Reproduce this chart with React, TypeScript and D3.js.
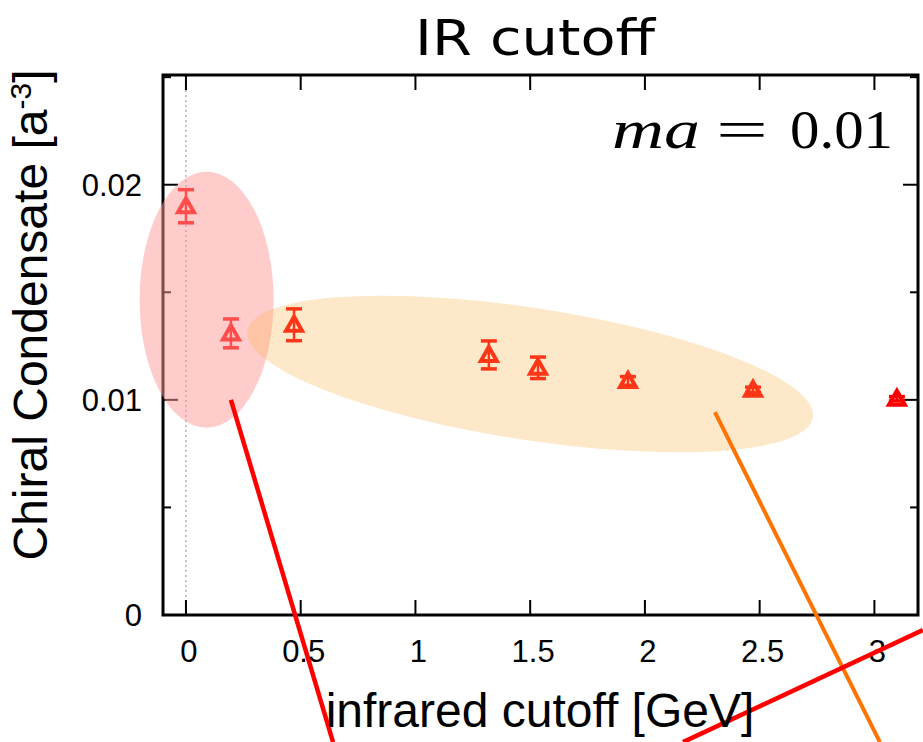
import * as d3 from "d3";

const WIDTH = 923;
const HEIGHT = 742;
const FRAME = { left: 163, right: 918, top: 75, bottom: 615 };

// measured points: infrared cutoff [GeV], condensate, error
const cutoffs = [0, 0.196, 0.471, 1.32, 1.534, 1.926, 2.471, 3.098];
const condensate = [0.019, 0.01309, 0.01349, 0.01209, 0.01149, 0.01088, 0.01047, 0.01005];
const errors = [0.00077, 0.00067, 0.00074, 0.00065, 0.0005, 0.0002, 0.00012, 0.0001];

const xTicks = [0, 0.5, 1, 1.5, 2, 2.5, 3];
const xTickLabels = ["0", "0.5", "1", "1.5", "2", "2.5", "3"];
const yTicks = [0, 0.01, 0.02];
const yTickLabels = ["0", "0.01", "0.02"];
const yMinorTicks = [0.005, 0.015, 0.025];

// highlight ellipses (centre in data units, radii in px, angle in degrees)
const ellipses = [
  { cx: 0.09, cy: 0.01465, rx: 67, ry: 128, angle: 0, fill: "#ff9999", opacity: 0.5 },
  { cx: 1.5, cy: 0.0112, rx: 286, ry: 66, angle: 8.7, fill: "#f9b24f", opacity: 0.3 },
];

// annotation strokes, endpoints in data units (run past the frame)
const strokes = [
  { x1: 0.196, y1: 0.01, x2: 0.641, y2: -0.00591, color: "#ff0000", width: 4.5 },
  { x1: 2.305, y1: 0.00943, x2: 3.024, y2: -0.00591, color: "#ff7300", width: 4 },
  { x1: 2.166, y1: -0.00591, x2: 3.211, y2: -0.0007, color: "#ff0000", width: 4.5 },
];

const FONT = "'Liberation Sans', Arial, Helvetica, sans-serif";

export default function App() {
  const x = d3.scaleLinear().domain([-0.1, 3.19]).range([FRAME.left, FRAME.right]);
  const y = d3.scaleLinear().domain([0, 0.0251]).range([FRAME.bottom, FRAME.top]);

  const triangle = (cx: number, cy: number) =>
    `M${cx},${cy - 8} L${cx + 8},${cy + 6} L${cx - 8},${cy + 6} Z`;

  return (
    <svg
      width={WIDTH}
      height={HEIGHT}
      style={{ position: "absolute", left: 0, top: 0, background: "#fff" }}
    >
      {/* zero line */}
      <line
        x1={x(0)}
        x2={x(0)}
        y1={FRAME.top}
        y2={FRAME.bottom}
        stroke="#888"
        strokeWidth={1}
        strokeDasharray="2,3"
      />

      {/* ticks on all four sides */}
      {xTicks.map((t, i) => (
        <g key={"xt" + i} stroke="#000" strokeWidth={2}>
          <line x1={x(t)} x2={x(t)} y1={FRAME.bottom} y2={FRAME.bottom - 15} />
          <line x1={x(t)} x2={x(t)} y1={FRAME.top} y2={FRAME.top + 15} />
        </g>
      ))}
      {yTicks.map((t, i) => (
        <g key={"yt" + i} stroke="#000" strokeWidth={2}>
          <line x1={FRAME.left} x2={FRAME.left + 15} y1={y(t)} y2={y(t)} />
          <line x1={FRAME.right} x2={FRAME.right - 15} y1={y(t)} y2={y(t)} />
        </g>
      ))}
      {yMinorTicks.map((t, i) => (
        <g key={"ym" + i} stroke="#000" strokeWidth={2}>
          <line x1={FRAME.left} x2={FRAME.left + 8} y1={y(t)} y2={y(t)} />
          <line x1={FRAME.right} x2={FRAME.right - 8} y1={y(t)} y2={y(t)} />
        </g>
      ))}
      <rect
        x={FRAME.left}
        y={FRAME.top}
        width={FRAME.right - FRAME.left}
        height={FRAME.bottom - FRAME.top}
        fill="none"
        stroke="#000"
        strokeWidth={3}
      />

      {/* tick labels */}
      {xTicks.map((t, i) => (
        <text
          key={"xl" + i}
          x={x(t) + 3}
          y={662}
          textAnchor="middle"
          fontFamily={FONT}
          fontSize={31}
        >
          {xTickLabels[i]}
        </text>
      ))}
      {yTicks.map((t, i) => (
        <text
          key={"yl" + i}
          x={142}
          y={y(t) + 11}
          textAnchor="end"
          fontFamily={FONT}
          fontSize={31}
        >
          {yTickLabels[i]}
        </text>
      ))}

      {/* data points with error bars */}
      {cutoffs.map((c, i) => {
        const cx = x(c);
        const top = y(condensate[i] + errors[i]);
        const bot = y(condensate[i] - errors[i]);
        return (
          <g key={"p" + i} stroke="#ff0000" strokeWidth={3.5} fill="none">
            <line x1={cx} x2={cx} y1={top} y2={bot} strokeWidth={2.5} />
            <line x1={cx - 8} x2={cx + 8} y1={top} y2={top} />
            <line x1={cx - 8} x2={cx + 8} y1={bot} y2={bot} />
            <path d={triangle(cx, y(condensate[i]))} strokeWidth={4} strokeLinejoin="miter" />
          </g>
        );
      })}

      {/* translucent highlight ellipses drawn over the data */}
      {ellipses.map((e, i) => (
        <ellipse
          key={"e" + i}
          cx={0}
          cy={0}
          rx={e.rx}
          ry={e.ry}
          transform={`translate(${x(e.cx)},${y(e.cy)}) rotate(${e.angle})`}
          fill={e.fill}
          opacity={e.opacity}
        />
      ))}

      {/* annotation strokes */}
      {strokes.map((s, i) => (
        <line
          key={"s" + i}
          x1={x(s.x1)}
          y1={y(s.y1)}
          x2={x(s.x2)}
          y2={y(s.y2)}
          stroke={s.color}
          strokeWidth={s.width}
        />
      ))}

      {/* title */}
      <text
        x={415}
        y={55}
        fontFamily="'Comic Sans MS', 'DejaVu Sans', sans-serif"
        fontSize={50}
        textLength={240}
        lengthAdjust="spacingAndGlyphs"
      >
        IR cutoff
      </text>

      {/* mass label */}
      <g fontFamily="'Liberation Serif', 'DejaVu Serif', serif" fontSize={54}>
        <text x={612} y={148} fontStyle="italic" textLength={88} lengthAdjust="spacingAndGlyphs">
          ma
        </text>
        <text x={716} y={148} textLength={52} lengthAdjust="spacingAndGlyphs">
          =
        </text>
        <text x={790} y={148} textLength={103} lengthAdjust="spacingAndGlyphs">
          0.01
        </text>
      </g>

      {/* axis labels */}
      <text x={540} y={727} textAnchor="middle" fontFamily={FONT} fontSize={48}>
        infrared cutoff [GeV]
      </text>
      <text
        transform="translate(47,315) rotate(-90)"
        textAnchor="middle"
        fontFamily={FONT}
        fontSize={48}
      >
        Chiral Condensate [a
        <tspan baselineShift="super" fontSize={30}>
          -3
        </tspan>
        ]
      </text>
    </svg>
  );
}
